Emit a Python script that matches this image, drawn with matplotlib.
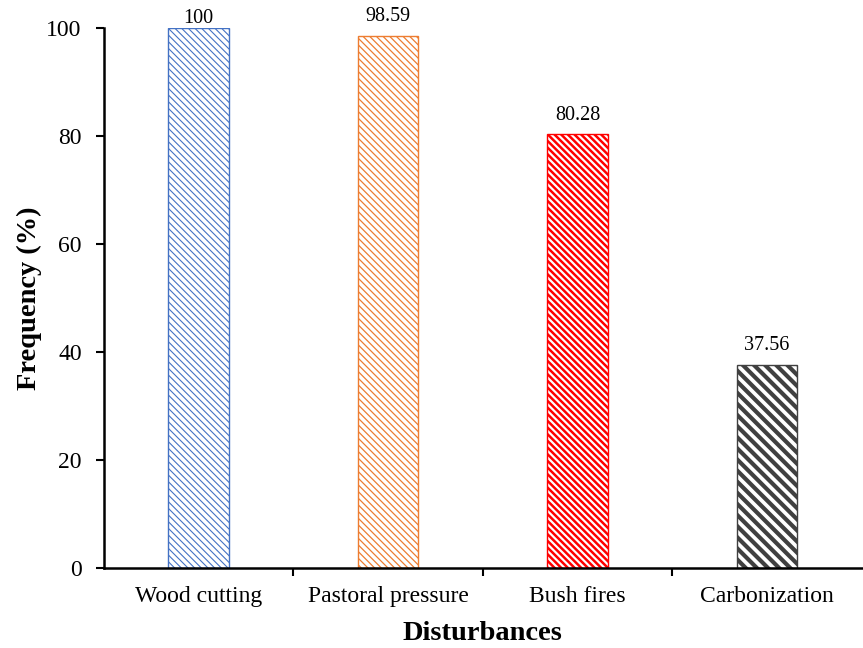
import matplotlib
matplotlib.use("Agg")
import matplotlib.pyplot as plt

plt.rcParams['font.family'] = ['Liberation Serif', 'DejaVu Serif']

categories = ["Wood cutting", "Pastoral pressure", "Bush fires", "Carbonization"]
frequency = [100, 98.59, 80.28, 37.56]
value_labels = ["100", "98.59", "80.28", "37.56"]
y_ticks = [0, 20, 40, 60, 80, 100]

colors = ["#4472C4", "#ED7D31", "#FF0000", "#404040"]
hatches = ["\\" * 5, "\\" * 5, "\\" * 5, "\\" * 3]
hatch_lw = [0.8, 0.9, 1.8, 3.0]
label_off = [0, 7, 7, 7]

fig = plt.figure(figsize=(8.63, 6.48), dpi=100)
ax = fig.add_axes([0.1205, 0.1235, 0.878, 0.8333])

for i, (cat, val) in enumerate(zip(categories, frequency)):
    plt.rcParams['hatch.linewidth'] = hatch_lw[i]
    ax.bar(i, val, width=0.32, facecolor="white", edgecolor=colors[i],
           hatch=hatches[i], linewidth=1.0, zorder=2)
    ax.annotate(value_labels[i], (i, val), xytext=(0, label_off[i]),
                textcoords="offset points", ha="center", va="bottom",
                fontsize=14.5, annotation_clip=False)

ax.set_xlim(-0.5, 3.5)
ax.set_ylim(0, 100)
ax.set_yticks(y_ticks)
ax.set_xticks(range(len(categories)))
ax.set_xticklabels(categories)
ax.tick_params(axis='x', length=0, labelsize=17, pad=13)
ax.set_xticks([0.5, 1.5, 2.5], minor=True)
ax.tick_params(axis='x', which='minor', length=6, width=1.5, direction='out')
ax.tick_params(axis='y', length=6, width=1.5, direction='out', labelsize=17, pad=10)

for s in ['top', 'right']:
    ax.spines[s].set_visible(False)
for s in ['left', 'bottom']:
    ax.spines[s].set_linewidth(1.8)

ax.set_xlabel("Disturbances", fontsize=20.5, fontweight='bold', labelpad=10)
ax.set_ylabel("Frequency (%)", fontsize=20.5, fontweight='bold', labelpad=3)

fig.savefig("out.png", dpi=100)
